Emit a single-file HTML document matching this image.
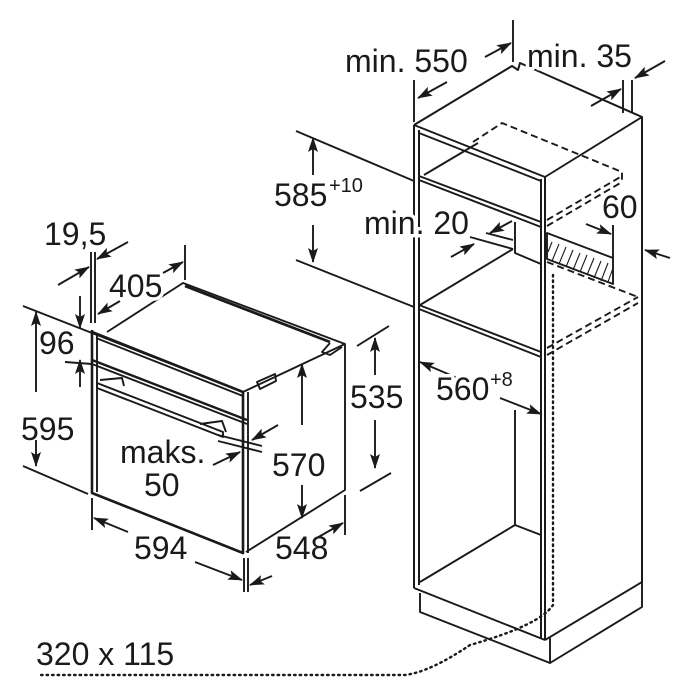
<!DOCTYPE html>
<html><head><meta charset="utf-8"><style>
html,body{margin:0;padding:0;background:#fff;}
svg{display:block}
text{font-family:"Liberation Sans",sans-serif;fill:#1a1a1a;font-size:32px}
.w{stroke:#fff;stroke-width:7px;paint-order:stroke;stroke-linejoin:round}
</style></head><body>
<svg width="700" height="700" viewBox="0 0 700 700" xmlns="http://www.w3.org/2000/svg">
<defs>
<marker id="a" markerWidth="15" markerHeight="10" refX="14" refY="5" orient="auto" markerUnits="userSpaceOnUse">
<path d="M0,0 L15,5 L0,10 L3,5 z" fill="#1a1a1a"/></marker>
</defs>
<g stroke="#1a1a1a" stroke-width="1.9" fill="none" stroke-linejoin="round">
<!-- OVEN -->
<path d="M92,330 L92,493 L243,553 L243,392 L92,332" stroke-width="2.6"/>
<path d="M97,334 L97,492"/>
<path d="M107,332 L183,283 L345,344 L345,490 L246,552"/>
<path d="M243,392 L345,344"/>
<path d="M248,392 L248,553"/>
<path d="M92,333 L243,392"/>
<path d="M96,338 L243,396"/>
<path d="M185,286 L330,342" stroke-width="2.8"/>
<path d="M92,360 L247,420" stroke-width="2.4"/>
<path d="M92,364 L247,424"/>
<path d="M330,343 L322,352 L330,355 L342,347"/>
<path d="M257,382 L275,374 L276,381 L260,389 Z"/>
<path d="M97,383 L223,432 L223,437 L97,388 Z"/>
<path d="M100,380 L122,378 L124,386 M200,424 L222,421 L226,432"/>
<!-- oven dims -->
<path d="M23,306 L92,333 M23,466 L88,494"/>
<path d="M36,392 L36,312" marker-end="url(#a)"/>
<path d="M36,440 L36,466" marker-end="url(#a)"/>
<path d="M80,296 L80,328" marker-end="url(#a)"/>
<path d="M80,387 L80,360" marker-end="url(#a)"/>
<path d="M65,362 L92,364"/>
<path d="M91,252 L91,323 M95,252 L95,323"/>
<path d="M58,285 L89,267" marker-end="url(#a)"/>
<path d="M128,242 L97,259" marker-end="url(#a)"/>
<path d="M185,245 L185,280"/>
<path d="M120,301 L98,314" marker-end="url(#a)"/>
<path d="M163,273 L183,262" marker-end="url(#a)"/>
<path d="M357,346 L389,326 M360,491 L391,473"/>
<path d="M375,375 L375,338" marker-end="url(#a)"/>
<path d="M375,420 L375,468" marker-end="url(#a)"/>
<path d="M302,425 L302,364" marker-end="url(#a)"/>
<path d="M302,485 L302,518" marker-end="url(#a)"/>
<path d="M92,498 L92,530 M244,558 L244,592 M248,558 L248,592 M345,495 L345,535"/>
<path d="M128,532 L94,518" marker-end="url(#a)"/>
<path d="M195,562 L242,580" marker-end="url(#a)"/>
<path d="M272,576 L250,585" marker-end="url(#a)"/>
<path d="M315,539 L343,523" marker-end="url(#a)"/>
<path d="M218,435 L262,446 M218,441 L262,452"/>
<path d="M278,425 L252,440" marker-end="url(#a)"/>
<path d="M213,465 L240,452" marker-end="url(#a)"/>
<!-- CABINET -->
<path d="M414,125 L512,66 L518,70 L520,63 L642,117 L642,582" stroke-width="2"/>
<path d="M414,125 L545,177 L642,117"/>
<path d="M414,125 L414,588 M419,130 L419,585" stroke-width="2"/>
<path d="M541,179 L541,638 M545,177 L545,640" stroke-width="2"/>
<path d="M419,133 L541,181"/>
<path d="M419,176 L541,222 M419,180 L541,227"/>
<path d="M424,175 L478,143"/>
<path d="M419,305 L541,352 M419,309 L541,357"/>
<path d="M420,305 L513,249"/>
<path d="M515,222 L515,253 L541,264"/>
<path d="M515,410 L515,525 L420,582 M515,525 L541,535"/>
<path d="M414,588 L545,640 M420,593 L420,612 L550,663 L550,638 M550,663 L642,607 L642,582 M545,640 L642,582"/>
<path d="M547,233 L613,258 L613,284 L547,259 Z"/>
<g stroke-width="1.1">
<path d="M552,242 L548,252 M559,244 L552,261 M566,247 L559,264 M573,250 L566,267 M580,253 L573,270 M587,255 L580,272 M594,258 L587,275 M601,261 L594,278 M608,263 L601,281 M613,268 L608,282"/>
</g>
<g stroke-dasharray="7,4">
<path d="M473,142 L502,123 L622,172 L622,182"/>
<path d="M547,220 L622,176 M547,226 L622,182"/>
<path d="M547,262 L638,297"/>
<path d="M547,348 L638,297 M547,355 L638,303"/>
</g>
<path d="M553,275 L553,605 Q540,625 470,645 Q430,672 405,675 L40,675" stroke-dasharray="1.5,4" stroke-width="2.4" stroke-linecap="round"/>
<!-- cabinet dims -->
<path d="M296,131 L414,181 M296,260 L414,307"/>
<path d="M313,175 L313,138" marker-end="url(#a)"/>
<path d="M313,225 L313,262" marker-end="url(#a)"/>
<path d="M462,380 L420,362" marker-end="url(#a)"/>
<path d="M500,398 L541,414" marker-end="url(#a)"/>
<path d="M414,80 L414,122 M513,20 L513,62"/>
<path d="M447,82 L418,98" marker-end="url(#a)"/>
<path d="M485,57 L511,43" marker-end="url(#a)"/>
<path d="M623,80 L623,113 M632,80 L632,113"/>
<path d="M591,106 L621,89" marker-end="url(#a)"/>
<path d="M665,61 L635,78" marker-end="url(#a)"/>
<path d="M613,225 L613,258"/>
<path d="M586,224 L611,234" marker-end="url(#a)"/>
<path d="M670,258 L645,250" marker-end="url(#a)"/>
<path d="M470,237 L513,249 M486,233 L513,240"/>
<path d="M512,221 L490,233" marker-end="url(#a)"/>
<path d="M451,257 L474,244" marker-end="url(#a)"/>
</g>
<!-- TEXT -->
<text x="345" y="72">min. 550</text>
<text class="w" x="527" y="67">min. 35</text>
<text x="274" y="206">585</text><text x="329" y="192" style="font-size:20px">+10</text>
<text class="w" x="364" y="234">min. 20</text>
<text class="w" x="602" y="218">60</text>
<text class="w" x="436" y="400">560</text><text class="w" x="490" y="386" style="font-size:20px">+8</text>
<text x="44" y="245">19,5</text>
<text class="w" x="109" y="297">405</text>
<text x="39" y="354">96</text>
<text x="21" y="440">595</text>
<text x="350" y="408">535</text>
<text class="w" x="120" y="463">maks.</text>
<text class="w" x="144" y="496">50</text>
<text class="w" x="272" y="476">570</text>
<text x="134" y="559">594</text>
<text x="275" y="559">548</text>
<text x="36" y="665">320 x 115</text>
</svg>
</body></html>
